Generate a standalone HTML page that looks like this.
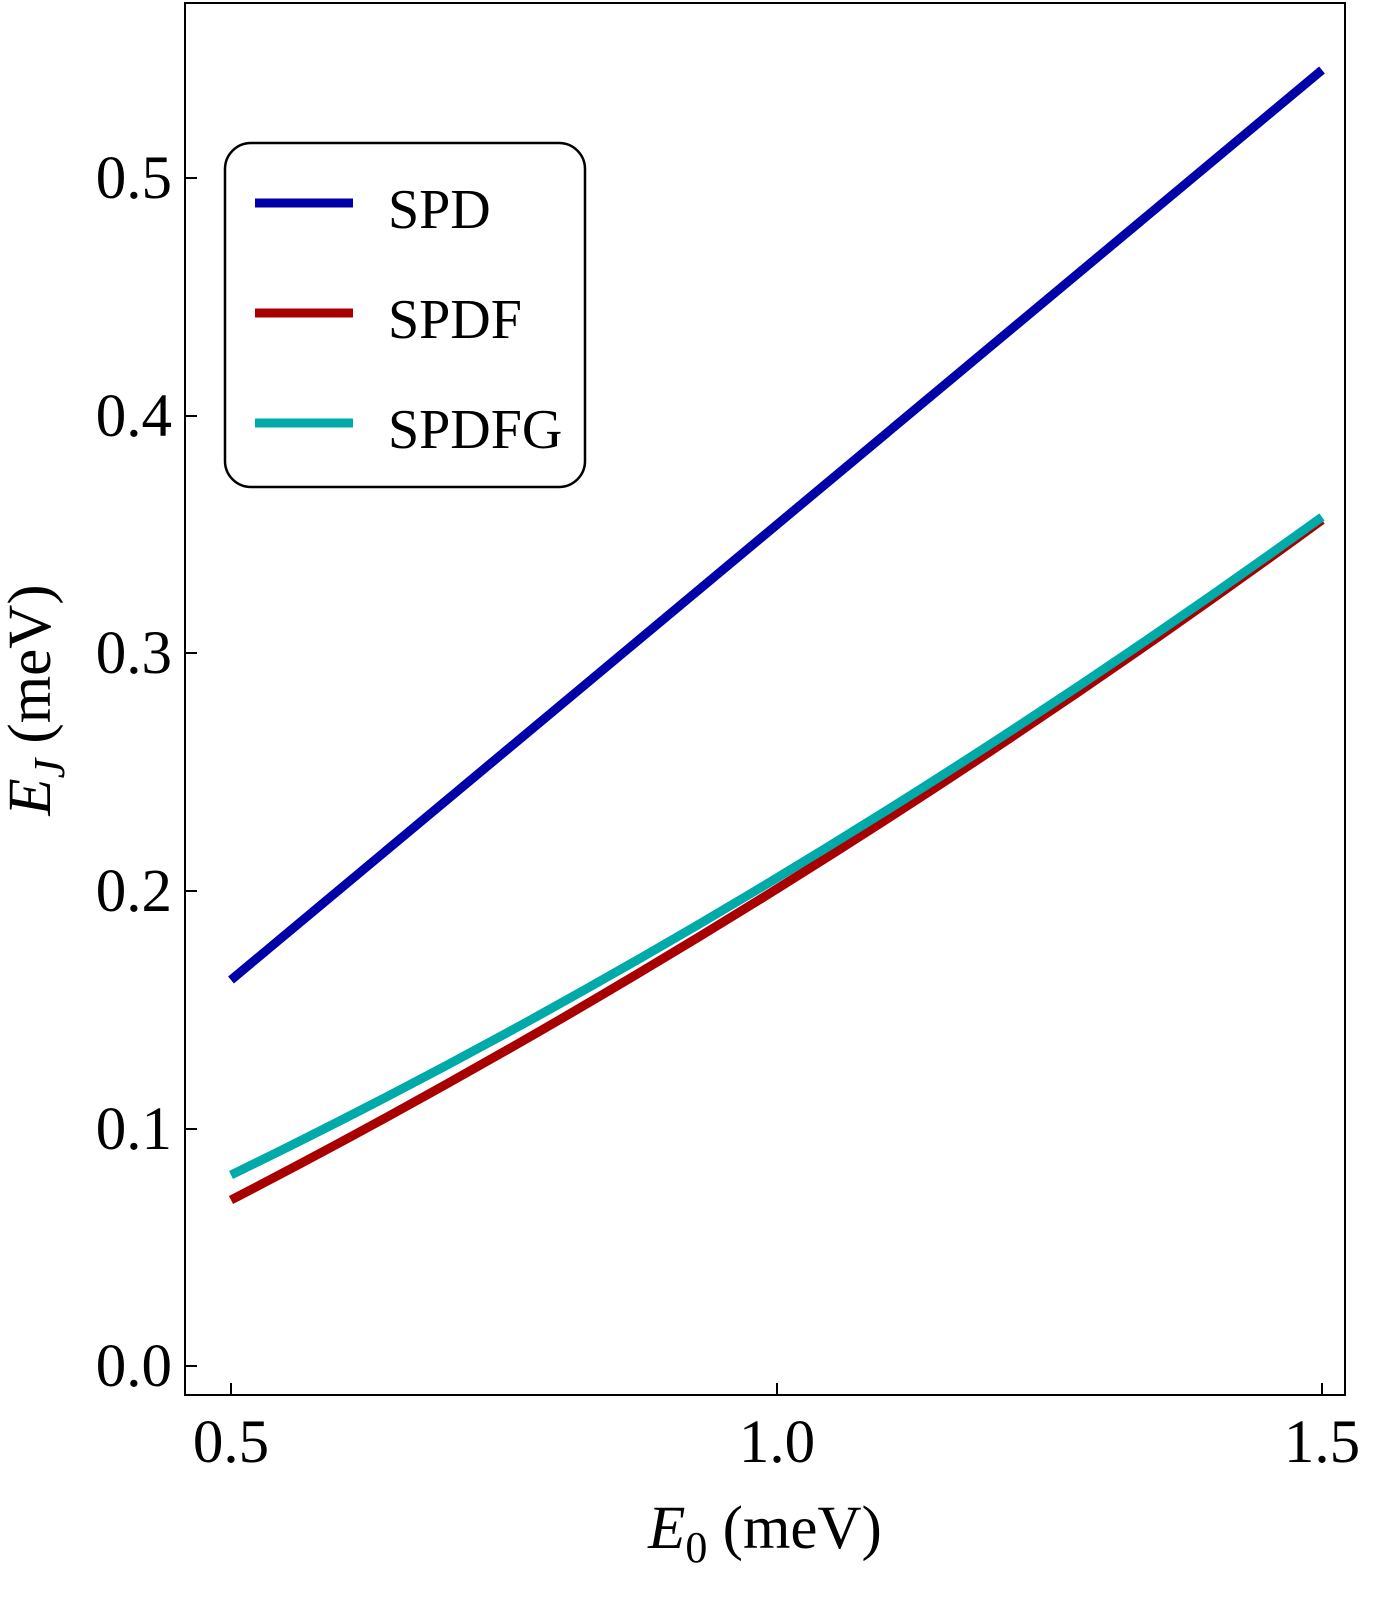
<!DOCTYPE html>
<html><head><meta charset="utf-8"><style>
html,body{margin:0;padding:0;background:#fff;}
svg{display:block;font-family:"Liberation Serif",serif;}
</style></head><body>
<svg width="1392" height="1600" viewBox="0 0 1392 1600">
<rect x="185" y="3" width="1160" height="1392" fill="none" stroke="#000" stroke-width="2"/>
<g stroke="#000" stroke-width="2">
<line x1="231" y1="1395" x2="231" y2="1383"/>
<line x1="777" y1="1395" x2="777" y2="1383"/>
<line x1="1322" y1="1395" x2="1322" y2="1383"/>
<line x1="185" y1="1366" x2="197" y2="1366"/>
<line x1="185" y1="1129" x2="197" y2="1129"/>
<line x1="185" y1="891" x2="197" y2="891"/>
<line x1="185" y1="653" x2="197" y2="653"/>
<line x1="185" y1="416" x2="197" y2="416"/>
<line x1="185" y1="178" x2="197" y2="178"/>
</g>
<g font-size="61" text-anchor="end">
<text x="172" y="1386">0.0</text>
<text x="172" y="1149">0.1</text>
<text x="172" y="911">0.2</text>
<text x="172" y="673">0.3</text>
<text x="172" y="436">0.4</text>
<text x="172" y="198">0.5</text>
</g>
<g font-size="61" text-anchor="middle">
<text x="231" y="1462">0.5</text>
<text x="777" y="1462">1.0</text>
<text x="1322" y="1462">1.5</text>
</g>
<text x="765" y="1548" font-size="61" text-anchor="middle"><tspan font-style="italic">E</tspan><tspan font-size="44" dy="14">0</tspan><tspan dy="-14"> (meV)</tspan></text>
<text transform="translate(50,700) rotate(-90)" font-size="61" text-anchor="middle"><tspan font-style="italic">E</tspan><tspan font-size="44" font-style="italic" dy="14">J</tspan><tspan dy="-14"> (meV)</tspan></text>
<line x1="231" y1="980" x2="1322" y2="70" stroke="#0000a8" stroke-width="9"/>
<path d="M231,1200 Q777,918 1322,520" fill="none" stroke="#a80000" stroke-width="9"/>
<path d="M231,1175 Q777,910 1322,517" fill="none" stroke="#00aaa8" stroke-width="9"/>
<rect x="225" y="143" width="360" height="344" rx="26" fill="#fff" stroke="#000" stroke-width="2.5"/>
<line x1="255" y1="203" x2="353" y2="203" stroke="#0000a8" stroke-width="9"/>
<line x1="255" y1="313" x2="353" y2="313" stroke="#a80000" stroke-width="9"/>
<line x1="255" y1="423" x2="353" y2="423" stroke="#00aaa8" stroke-width="9"/>
<g font-size="56">
<text x="388" y="228">SPD</text>
<text x="388" y="338">SPDF</text>
<text x="388" y="448">SPDFG</text>
</g>
</svg>
</body></html>
